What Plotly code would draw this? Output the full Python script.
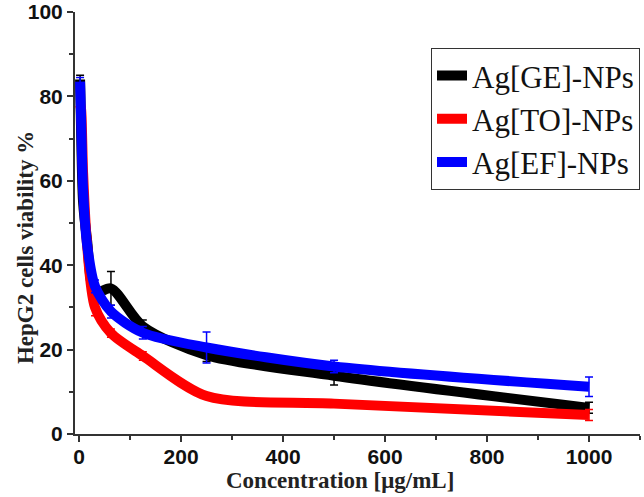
import plotly.graph_objects as go

conc = [1.95, 3.9, 7.8, 15.6, 31.25, 62.5, 125, 250, 500, 1000]

ge_viability = [84, 72, 55, 46, 33.5, 34.5, 25.5, 18.7, 13.8, 6.2]
ge_sd = [1, 1.5, 2, 2, 1.5, 4, 1.5, 1.5, 2.2, 1.3]

to_viability = [78, 77, 62, 45, 30, 23.9, 18.5, 9, 7.2, 4.5]
to_sd = [1.5, 1.5, 2, 2, 2, 1, 1, 0.6, 0.8, 1.3]

ef_viability = [83.5, 75, 58, 45, 35, 29, 24, 20.5, 16, 11.2]
ef_sd = [1, 1.5, 2, 2, 1.5, 1.5, 1.5, 3.7, 1.5, 2.3]

series = [
    ("Ag[GE]-NPs", ge_viability, ge_sd, "#000000"),
    ("Ag[TO]-NPs", to_viability, to_sd, "#ff0000"),
    ("Ag[EF]-NPs", ef_viability, ef_sd, "#0000ff"),
]

fig = go.Figure()

for name, y, sd, color in series:
    fig.add_trace(
        go.Scatter(
            x=conc,
            y=y,
            name=name,
            mode="lines",
            line=dict(color=color, width=10, shape="spline", smoothing=0.8),
            error_y=dict(type="data", array=sd, color=color, thickness=1.5, width=4),
        )
    )

axis_font = dict(family="Liberation Sans", size=21, color="#111", weight="bold")
title_font = dict(family="Liberation Serif", size=23, color="#222", weight="bold")

fig.update_xaxes(
    range=[-8, 1100],
    tickvals=[0, 200, 400, 600, 800, 1000],
    ticks="outside",
    ticklen=6,
    tickwidth=2,
    tickcolor="#333",
    minor=dict(dtick=100, tick0=0, ticks="outside", ticklen=4, tickwidth=2, tickcolor="#333"),
    showline=True,
    linecolor="#333",
    linewidth=2,
    showgrid=False,
    zeroline=False,
    automargin=False,
    ticklabeloverflow="allow",
    ticklabelstandoff=-3,
    tickfont=axis_font,
)
fig.update_yaxes(
    range=[0, 100],
    tickvals=[0, 20, 40, 60, 80, 100],
    ticks="outside",
    ticklen=6,
    tickwidth=2,
    tickcolor="#333",
    minor=dict(dtick=10, tick0=0, ticks="outside", ticklen=4, tickwidth=2, tickcolor="#333"),
    showline=True,
    linecolor="#333",
    linewidth=2,
    showgrid=False,
    zeroline=False,
    automargin=False,
    ticklabeloverflow="allow",
    tickfont=axis_font,
)

# axis titles as annotations so they sit where the original has them
fig.add_annotation(
    text="Concentration [μg/mL]",
    xref="paper",
    yref="paper",
    x=0.469,
    y=-0.111,
    xanchor="center",
    yanchor="middle",
    showarrow=False,
    font=title_font,
)
fig.add_annotation(
    text="HepG2 cells viability %",
    xref="paper",
    yref="paper",
    x=-0.0885,
    y=0.443,
    xanchor="center",
    yanchor="middle",
    textangle=-90,
    showarrow=False,
    font=title_font,
)

fig.update_layout(
    width=644,
    height=497,
    margin=dict(l=75, r=4, t=12, b=63),
    plot_bgcolor="white",
    paper_bgcolor="white",
    legend=dict(
        x=1,
        y=0.915,
        xanchor="right",
        yanchor="top",
        font=dict(family="Liberation Serif", size=31, color="#111"),
        bordercolor="#333",
        borderwidth=1,
        bgcolor="white",
        tracegroupgap=0,
    ),
)

# drop the default 8px page margin so the figure sits at the window corner
fig.write_html(
    "out.html",
    config={"displayModeBar": False},
    post_script="document.body.style.margin = '0';",
)
